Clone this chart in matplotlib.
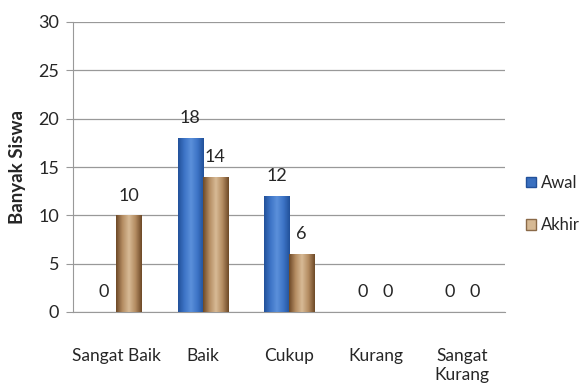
import numpy as np
import matplotlib.pyplot as plt
from matplotlib.patches import Patch
from matplotlib.colors import LinearSegmentedColormap

# data
categories = ['Sangat Baik', 'Baik', 'Cukup', 'Kurang', 'Sangat\nKurang']
awal = [0, 18, 12, 0, 0]
akhir = [10, 14, 6, 0, 0]

plt.rcParams['font.family'] = ['Lato', 'DejaVu Sans']

fig = plt.figure(figsize=(5.81, 3.83), dpi=100)
ax = fig.add_axes([73 / 581, 1 - 312 / 383, 432 / 581, 290 / 383])

x = np.arange(len(categories))
w = 0.29


def gradient_fill(bars, colors):
    # horizontal shading inside each bar
    cmap = LinearSegmentedColormap.from_list('g', colors)
    grad = np.abs(np.linspace(0, 1, 64) - 0.5) * 2
    grad = grad.reshape(1, -1)
    for b in bars:
        h = b.get_height()
        if h <= 0:
            continue
        x0 = b.get_x()
        im = ax.imshow(grad, cmap=cmap, aspect='auto',
                       extent=[x0, x0 + b.get_width(), 0, h], zorder=3)
        im.set_clip_path(b)


b1 = ax.bar(x - w / 2, awal, w, color='#3A70C0', zorder=2)
b2 = ax.bar(x + w / 2, akhir, w, color='#C9A57A', zorder=2)
gradient_fill(b1, ['#5A8FDA', '#3D74C6', '#22519A'])
gradient_fill(b2, ['#D6B994', '#B48C62', '#6E4A28'])

for xi, v in zip(x - w / 2, awal):
    ax.text(xi, v + 1.2, str(v), ha='center', va='bottom', fontsize=13, color='#262626')
for xi, v in zip(x + w / 2, akhir):
    ax.text(xi, v + 1.2, str(v), ha='center', va='bottom', fontsize=13, color='#262626')

ax.set_xlim(-0.5, len(categories) - 0.5)
ax.set_ylim(0, 30)
ax.set_yticks(range(0, 31, 5))
ax.set_xticks(x)
ax.set_xticklabels(categories, fontsize=12.5, va='top', linespacing=1.2, color='#262626')
ax.tick_params(axis='x', length=0, pad=26)
ax.tick_params(axis='y', length=5, color='#999999', labelsize=13, pad=5, labelcolor='#262626')
ax.grid(axis='y', color='#999999', linewidth=0.9, zorder=0)
ax.set_axisbelow(True)
for s in ['top', 'right']:
    ax.spines[s].set_visible(False)
ax.spines['left'].set_color('#999999')
ax.spines['bottom'].set_color('#999999')

ax.set_ylabel('Banyak Siswa', fontsize=13.5, fontweight='bold', labelpad=9, color='#262626')

handles = [Patch(facecolor='#3A70C0', edgecolor='#22519A', label='Awal'),
           Patch(facecolor='#D6B994', edgecolor='#8A6A48', label='Akhir')]
fig.legend(handles=handles, loc='center left', bbox_to_anchor=(526 / 581, 1 - 204 / 383),
           frameon=False, fontsize=12, handlelength=0.6, handleheight=0.6,
           handletextpad=0.3, labelspacing=1.6, labelcolor='#262626',
           borderpad=0, borderaxespad=0)

fig.savefig('out.png', dpi=100)
